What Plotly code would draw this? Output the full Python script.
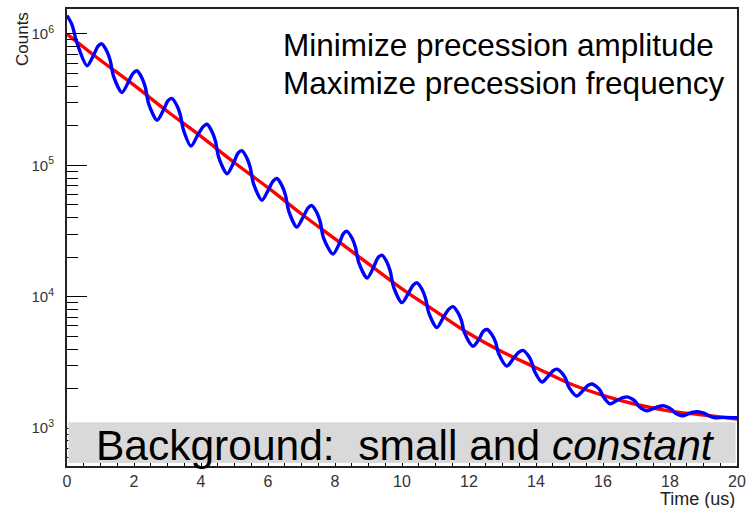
import plotly.graph_objects as go

# Red fit curve (time in us, log10 of counts)
red_t = [0, 1, 2, 3, 4, 5, 6, 7, 8, 9, 10, 11, 12, 13, 14, 15, 16, 17, 18, 19, 20]
red_log10 = [6.00, 5.80, 5.61, 5.41, 5.22, 5.02, 4.83, 4.63, 4.44, 4.25, 4.06,
             3.89, 3.72, 3.58, 3.46, 3.34, 3.25, 3.18, 3.13, 3.10, 3.07]

# Blue data curve
blue_t = [0.0, 0.15, 0.3, 0.6, 0.8, 0.92, 1.04,
          1.19, 1.29, 1.39, 1.64, 1.84, 1.97, 2.09,
          2.24, 2.34, 2.44, 2.69, 2.89, 3.01, 3.13,
          3.28, 3.38, 3.48, 3.70, 3.90, 4.06, 4.18,
          4.33, 4.43, 4.53, 4.78, 4.98, 5.10, 5.22,
          5.37, 5.47, 5.57, 5.82, 6.02, 6.15, 6.27,
          6.42, 6.52, 6.62, 6.86, 7.06, 7.19, 7.31,
          7.46, 7.56, 7.66, 7.94, 8.14, 8.24, 8.36,
          8.51, 8.61, 8.71, 8.96, 9.16, 9.28, 9.40,
          9.55, 9.65, 9.75, 10.0, 10.2, 10.33, 10.45,
          10.60, 10.70, 10.80, 11.04, 11.24, 11.40, 11.52,
          11.67, 11.77, 11.87, 12.12, 12.32, 12.42, 12.54,
          12.69, 12.79, 12.89, 13.13, 13.33, 13.49, 13.61,
          13.76, 13.86, 13.96, 14.18, 14.38, 14.51, 14.63,
          14.78, 14.88, 14.98, 15.22, 15.42, 15.55, 15.67,
          15.82, 15.92, 16.02, 16.21, 16.41, 16.60, 16.72,
          16.87, 16.97, 17.07, 17.31, 17.51, 17.67, 17.79,
          17.94, 18.04, 18.14, 18.36, 18.56, 18.69, 18.81,
          18.96, 19.06, 19.16, 19.34, 19.6, 20.0]
blue_log10 = [6.14, 6.07, 5.93, 5.758, 5.842, 5.905, 5.925,
              5.869, 5.799, 5.677, 5.555, 5.638, 5.700, 5.72,
              5.663, 5.592, 5.467, 5.343, 5.427, 5.490, 5.51,
              5.456, 5.387, 5.267, 5.147, 5.230, 5.293, 5.313,
              5.256, 5.185, 5.060, 4.936, 5.024, 5.091, 5.112,
              5.055, 4.984, 4.859, 4.735, 4.818, 4.880, 4.90,
              4.844, 4.774, 4.652, 4.53, 4.612, 4.674, 4.694,
              4.639, 4.569, 4.447, 4.325, 4.412, 4.477, 4.498,
              4.445, 4.377, 4.260, 4.143, 4.230, 4.296, 4.317,
              4.263, 4.194, 4.074, 3.955, 4.031, 4.088, 4.106,
              4.055, 3.990, 3.878, 3.766, 3.846, 3.906, 3.925,
              3.880, 3.822, 3.723, 3.623, 3.687, 3.736, 3.751,
              3.709, 3.656, 3.564, 3.472, 3.532, 3.578, 3.592,
              3.556, 3.510, 3.431, 3.351, 3.40, 3.437, 3.449,
              3.418, 3.380, 3.312, 3.245, 3.29, 3.325, 3.336,
              3.313, 3.285, 3.235, 3.185, 3.211, 3.232, 3.238,
              3.222, 3.202, 3.167, 3.132, 3.151, 3.165, 3.17,
              3.159, 3.144, 3.119, 3.094, 3.110, 3.121, 3.125,
              3.118, 3.109, 3.094, 3.079, 3.082, 3.08]

x_ticks = [0, 2, 4, 6, 8, 10, 12, 14, 16, 18, 20]
y_ticks = [1e3, 1e4, 1e5, 1e6]
y_tick_labels = ["10<sup>3</sup>", "10<sup>4</sup>", "10<sup>5</sup>", "10<sup>6</sup>"]
y_minor = [k * 10 ** n for n in range(2, 7) for k in range(2, 10)]

red_counts = [10 ** v for v in red_log10]
blue_counts = [10 ** v for v in blue_log10]

FONT = "Liberation Sans, Arial, sans-serif"

fig = go.Figure()
fig.add_trace(go.Scatter(x=red_t, y=red_counts, mode="lines",
                         line=dict(color="#ff0000", width=3.4, shape="spline"),
                         showlegend=False, hoverinfo="skip"))
fig.add_trace(go.Scatter(x=blue_t, y=blue_counts, mode="lines",
                         line=dict(color="#0000ff", width=3.4, shape="spline", smoothing=0.8),
                         showlegend=False, hoverinfo="skip"))

fig.update_layout(
    width=753, height=508,
    margin=dict(l=67, r=16, t=7, b=42),
    paper_bgcolor="white", plot_bgcolor="white",
    font=dict(family=FONT, color="#222"),
    xaxis=dict(range=[0, 20], tickvals=x_ticks, ticks="inside", ticklen=5,
               tickwidth=1, tickcolor="black", showgrid=False, zeroline=False,
               showline=True, linewidth=2, linecolor="#222", mirror=True,
               tickfont=dict(size=16, color="#333"),
               minor=dict(dtick=0.5, ticks="inside", ticklen=4, tickcolor="black",
                          showgrid=False)),
    yaxis=dict(type="log", range=[2.712, 6.19], tickvals=y_ticks, ticktext=y_tick_labels,
               ticks="inside", ticklen=20, tickwidth=1.2, tickcolor="black",
               showgrid=False, zeroline=False, showline=True, linewidth=2,
               linecolor="#222", mirror=True, tickfont=dict(size=15, color="#333"),
               ticklabelstandoff=8,
               minor=dict(tickvals=y_minor, ticks="inside", ticklen=11,
                          tickcolor="black", tickwidth=1, showgrid=False)),
    shapes=[dict(type="rect", xref="paper", yref="paper", x0=0.002, x1=0.998,
                 y0=0.0065, y1=0.0959, fillcolor="#d9d9d9", line=dict(width=0),
                 layer="above")],
    annotations=[
        dict(text="Minimize precession amplitude", xref="paper", yref="paper",
             x=(281 - 67) / 670, y=1 - (43 - 7) / 459, xanchor="left", yanchor="middle",
             showarrow=False, font=dict(size=31.5, color="black", family=FONT)),
        dict(text="Maximize precession frequency", xref="paper", yref="paper",
             x=(281 - 67) / 670, y=1 - (81 - 7) / 459, xanchor="left", yanchor="middle",
             showarrow=False, font=dict(size=31.5, color="black", family=FONT)),
        dict(text="Background:  small and <i>constant</i>", xref="paper", yref="paper",
             x=(94 - 67) / 670, y=1 - (445 - 7) / 459, xanchor="left", yanchor="middle",
             showarrow=False, font=dict(size=42.5, color="black", family=FONT)),
        dict(text="Time (us)", xref="paper", yref="paper", x=1, y=-(499 - 466) / 459,
             xanchor="right", yanchor="middle", showarrow=False,
             font=dict(size=18, color="#222", family=FONT)),
        dict(text="Counts", xref="paper", yref="paper", x=-(67 - 23) / 670, y=1 - (8 - 7) / 459,
             xanchor="center", yanchor="top", textangle=-90, showarrow=False,
             font=dict(size=17, color="#222", family=FONT)),
    ],
)

fig.write_html("out.html")
